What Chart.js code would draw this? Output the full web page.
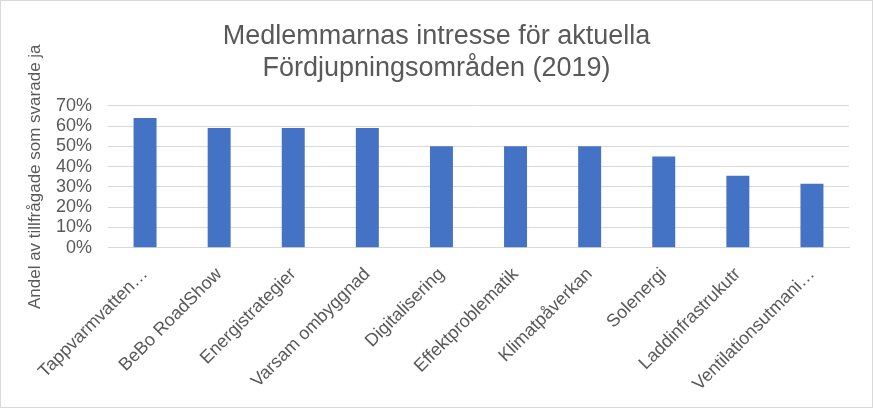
<!DOCTYPE html>
<html>
<head>
<meta charset="utf-8">
<script src="https://cdn.jsdelivr.net/npm/chart.js@4"></script>
<style>
  html, body { margin: 0; padding: 0; background: #fff; }
  #wrap { position: relative; width: 871px; height: 406px; border: 1px solid #d9d9d9; }
</style>
</head>
<body>
<div id="wrap"><canvas id="chart"></canvas></div>
<script>
// ─── DATA ───
const categories = [
  'Tappvarmvatten…', 'BeBo RoadShow', 'Energistrategier', 'Varsam ombyggnad',
  'Digitalisering', 'Effektproblematik', 'Klimatpåverkan', 'Solenergi',
  'Laddinfrastrukutr', 'Ventilationsutmani…'
];
const shareYes = [0.64, 0.59, 0.59, 0.59, 0.50, 0.50, 0.50, 0.45, 0.355, 0.315];
const yTicks = [0, 0.1, 0.2, 0.3, 0.4, 0.5, 0.6, 0.7];

const TEXT = '#595959';
const GRID = '#d9d9d9';
Chart.defaults.font.family = "'Liberation Sans', Arial, sans-serif";
Chart.defaults.color = TEXT;

new Chart(document.getElementById('chart'), {
  type: 'bar',
  data: {
    labels: categories,
    datasets: [{
      label: 'Andel',
      data: shareYes,
      backgroundColor: '#4472c4',
      barPercentage: 0.62,
      categoryPercentage: 0.5,
    }],
  },
  options: {
    responsive: true,
    maintainAspectRatio: false,
    animation: false,
    layout: { padding: { left: 23, right: 23, top: 13, bottom: 4 } },
    plugins: {
      legend: { display: false },
      tooltip: { enabled: false },
      title: {
        display: true,
        text: ['Medlemmarnas intresse för aktuella', 'Fördjupningsområden (2019)'],
        font: { size: 27, weight: 'normal' },
        color: TEXT,
        padding: { top: 6, bottom: 21 },
        lineHeight: 1.18,
      },
    },
    scales: {
      x: {
        grid: { display: false },
        border: { color: GRID },
        ticks: {
          font: { size: 18 },
          color: TEXT,
          minRotation: 45,
          maxRotation: 45,
          autoSkip: false,
          padding: 8,
        },
      },
      y: {
        min: 0,
        max: 0.7,
        afterBuildTicks: axis => { axis.ticks = yTicks.map(v => ({ value: v })); },
        afterFit: axis => { axis.width = 84; },
        grid: { color: GRID, lineWidth: 1, drawTicks: false },
        border: { display: false },
        ticks: {
          font: { size: 18 },
          color: TEXT,
          padding: 16,
          autoSkip: false,
          callback: v => Math.round(v * 100) + '%',
        },
        title: {
          display: true,
          text: 'Andel av tillfrågade som svarade ja',
          font: { size: 17 },
          color: TEXT,
          padding: { top: 1, bottom: 0 },
        },
      },
    },
  },
});
</script>
</body>
</html>
